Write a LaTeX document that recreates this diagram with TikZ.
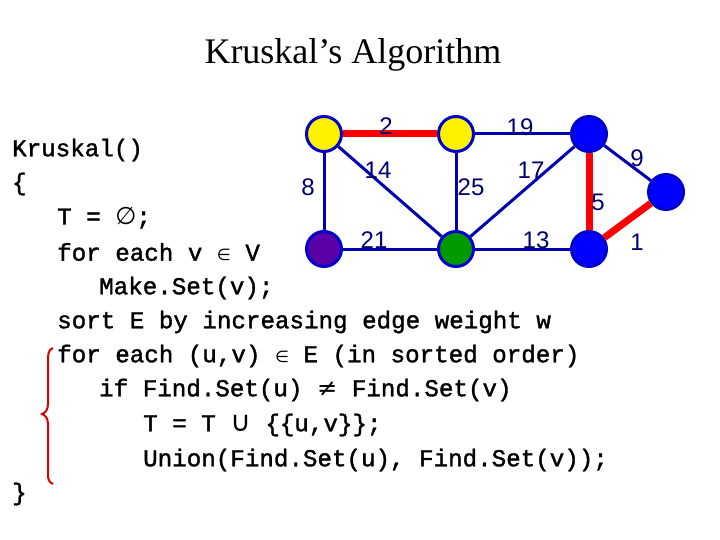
\documentclass[tikz,border=0pt]{standalone}
\usepackage{fontspec}
\setmainfont{Liberation Serif}
\setmonofont[FakeBold=1.5]{Liberation Mono}
\newfontfamily\symf{DejaVu Sans}
\newfontfamily\lblf{Liberation Sans}
\begin{document}
\begin{tikzpicture}[x=1pt,y=-1pt,
  code/.style={anchor=west,inner sep=0,font=\ttfamily\fontsize{24.2}{24}\selectfont},
  vert/.style={circle,draw=blue!80!black,line width=3pt,minimum size=35pt,inner sep=0},
  edge/.style={draw=blue!70!black,line width=3pt},
  tedge/.style={draw=red,line width=7pt},
  wt/.style={text=blue!45!black,font=\lblf\fontsize{24}{24}\selectfont,inner sep=0}]
\useasboundingbox (0,0) rectangle (720,540);
\node (title) at (353,55) {\fontsize{36}{36}\selectfont Kruskal’s Algorithm};
% graph
\node[vert,fill=yellow] (a) at (324,134) {};
\node[vert,fill=yellow] (b) at (456,134) {};
\node[vert,fill=blue] (c) at (589,134) {};
\node[vert,fill=violet!70!blue] (d) at (324,249) {};
\node[vert,fill=green!60!black] (e) at (456,249) {};
\node[vert,fill=blue] (f) at (589,249) {};
\node[vert,fill=blue] (g) at (666,192) {};
\path[edge] (a) -- (d);
\path[edge] (a) -- (e);
\path[edge] (b) -- (c);
\path[edge] (b) -- (e);
\path[edge] (e) -- (c);
\path[edge] (d) -- (e);
\path[edge] (e) -- (f);
\path[edge] (c) -- (g);
\path[tedge] (a) -- (b);
\path[tedge] (c) -- (f);
\path[tedge] (f) -- (g);
\node[wt] (w2) at (386,126) {2};
\node[wt] (w19) at (520,127) {19};
\node[wt] (w8) at (308,187) {8};
\node[wt] (w14) at (378,170) {14};
\node[wt] (w25) at (471,187) {25};
\node[wt] (w17) at (531,170) {17};
\node[wt] (w9) at (637,158) {9};
\node[wt] (w5) at (598,202) {5};
\node[wt] (w1) at (637,242) {1};
\node[wt] (w21) at (374,240) {21};
\node[wt] (w13) at (536,240) {13};
% code
\node[code] (l1) at (12,150) {Kruskal()};
\node[code] (l2) at (12,184) {\{};
\node[code] (l3) at (57,218) {T = {\symf ∅};};
\node[code] (l4) at (57,252) {for each v {\symf\fontsize{16}{16}\selectfont ∈} V};
\node[code] (l5) at (99,288) {Make.Set(v);};
\node[code] (l6) at (57,322) {sort E by increasing edge weight w};
\node[code] (l7) at (57,356) {for each (u,v) {\symf\fontsize{16}{16}\selectfont ∈} E (in sorted order)};
\node[code] (l8) at (99,390) {if Find.Set(u) {\symf ≠} Find.Set(v)};
\node[code] (l9) at (143,425) {T = T {\symf\fontsize{28}{28}\selectfont ∪} \{\{u,v\}\};};
\node[code] (l10) at (143,460) {Union(Find.Set(u), Find.Set(v));};
\node[code] (l11) at (12,494) {\}};
% brace
\draw[red!85!black,line width=2pt] (53,348) .. controls (48,350) and (48,354) .. (48,362)
  -- (48,404) .. controls (48,410) and (45,413) .. (42,414)
  .. controls (45,415) and (48,418) .. (48,424) -- (48,474)
  .. controls (48,480) and (49,482) .. (53,484);
\end{tikzpicture}
\end{document}
